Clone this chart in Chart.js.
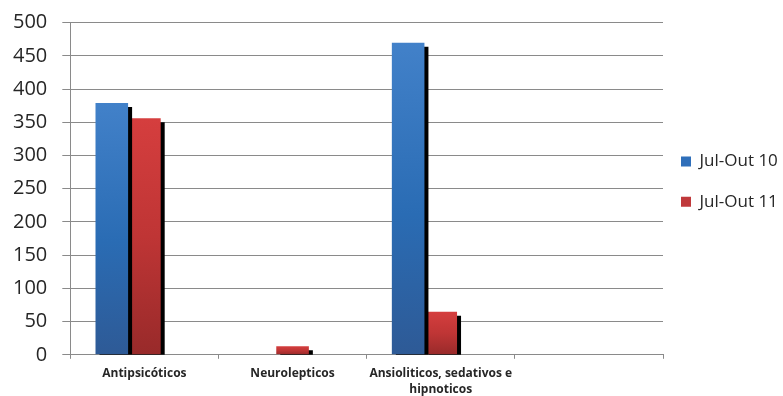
<!DOCTYPE html>
<html>
<head>
<meta charset="utf-8">
<script src="https://cdn.jsdelivr.net/npm/chart.js@4/dist/chart.umd.min.js"></script>
<style>
  html, body { margin: 0; padding: 0; background: #ffffff; }
  #wrap { width: 783px; height: 396px; }
</style>
</head>
<body>
<div id="wrap"><canvas id="c" width="783" height="396"></canvas></div>
<script>
// Drug classes (the fourth slot is an empty category)
const categories = [
  'Antipsicóticos',
  'Neurolepticos',
  ['Ansioliticos, sedativos e', 'hipnoticos'],
  ''
];
const seriesNames = ['Jul-Out 10', 'Jul-Out 11'];
const julOut10 = [379, 0, 470, null];
const julOut11 = [356, 13, 65, null];
const emptySeries = [null, null, null, null];
const yTicks = [0, 50, 100, 150, 200, 250, 300, 350, 400, 450, 500];

const GRID = '#8a8a8a';
const TEXT = '#262626';

// vertical gradient spanning each bar from its top to the baseline
function barGradient(stops) {
  return (ctx) => {
    const chart = ctx.chart;
    if (!chart.chartArea || ctx.raw == null) return stops[0][1];
    const y = chart.scales.y;
    const top = y.getPixelForValue(ctx.raw);
    const base = y.getPixelForValue(0);
    if (!(base > top)) return stops[0][1];
    const g = chart.ctx.createLinearGradient(0, top, 0, base);
    stops.forEach(([o, c]) => g.addColorStop(o, c));
    return g;
  };
}
const blueStops = [[0, '#4281c9'], [0.55, '#2a6cb4'], [1, '#2e5a96']];
const redStops = [[0, '#d53e3e'], [0.5, '#bf3535'], [1, '#982a2a']];

// hard black drop shadow behind every bar
const barShadow = {
  id: 'barShadow',
  beforeDatasetDraw(chart) {
    const c = chart.ctx;
    c.save();
    c.shadowColor = '#000000';
    c.shadowBlur = 0;
    c.shadowOffsetX = 4;
    c.shadowOffsetY = 4;
  },
  afterDatasetDraw(chart) {
    chart.ctx.restore();
  }
};

new Chart(document.getElementById('c'), {
  type: 'bar',
  data: {
    labels: categories,
    datasets: [
      { label: seriesNames[0], data: julOut10, backgroundColor: barGradient(blueStops), legendColor: '#2f6fba', clip: 0 },
      { label: seriesNames[1], data: julOut11, backgroundColor: barGradient(redStops), legendColor: '#c0393b', clip: 0 },
      { label: '', data: emptySeries, backgroundColor: '#888888', clip: 0 }
    ]
  },
  options: {
    responsive: false,
    animation: false,
    devicePixelRatio: 1,
    layout: { padding: { left: -2, top: 16, right: 0, bottom: -8 } },
    datasets: {
      bar: { categoryPercentage: 0.66, barPercentage: 1, borderWidth: 0 }
    },
    plugins: {
      tooltip: { enabled: false },
      legend: {
        position: 'right',
        fullSize: false,
        maxWidth: 120,
        align: 'start',
        // blank title used only as top spacing for the legend column
        title: { display: true, text: '', padding: 49, font: { size: 12, lineHeight: 1.2 } },
        labels: {
          boxWidth: 10,
          boxHeight: 10,
          padding: 18,
          color: TEXT,
          font: { family: 'Open Sans', size: 17, lineHeight: 1.3 },
          filter: (item) => item.datasetIndex < 2,
          generateLabels(chart) {
            return chart.data.datasets.map((ds, i) => ({
              text: [ds.label],
              fillStyle: ds.legendColor || '#888',
              strokeStyle: ds.legendColor || '#888',
              fontColor: TEXT,
              lineWidth: 0,
              datasetIndex: i,
              hidden: false
            }));
          }
        }
      }
    },
    scales: {
      x: {
        offset: true,
        grid: { display: true, drawOnChartArea: false, offset: true, color: GRID, tickLength: 4, tickWidth: 1 },
        border: { display: true, color: GRID, width: 1 },
        ticks: {
          autoSkip: false,
          maxRotation: 0,
          padding: 7,
          color: TEXT,
          font: { family: 'Open Sans', size: 12, weight: 'bold', lineHeight: 1.3 }
        }
      },
      y: {
        min: 0,
        max: 500,
        afterBuildTicks(axis) { axis.ticks = yTicks.map(v => ({ value: v })); },
        grid: { color: GRID, lineWidth: 1, tickLength: 8 },
        border: { display: true, color: GRID, width: 1 },
        ticks: {
          padding: 15,
          color: TEXT,
          font: { family: 'Open Sans', size: 20, lineHeight: 0.77 }
        }
      }
    }
  },
  plugins: [barShadow]
});
</script>
</body>
</html>
